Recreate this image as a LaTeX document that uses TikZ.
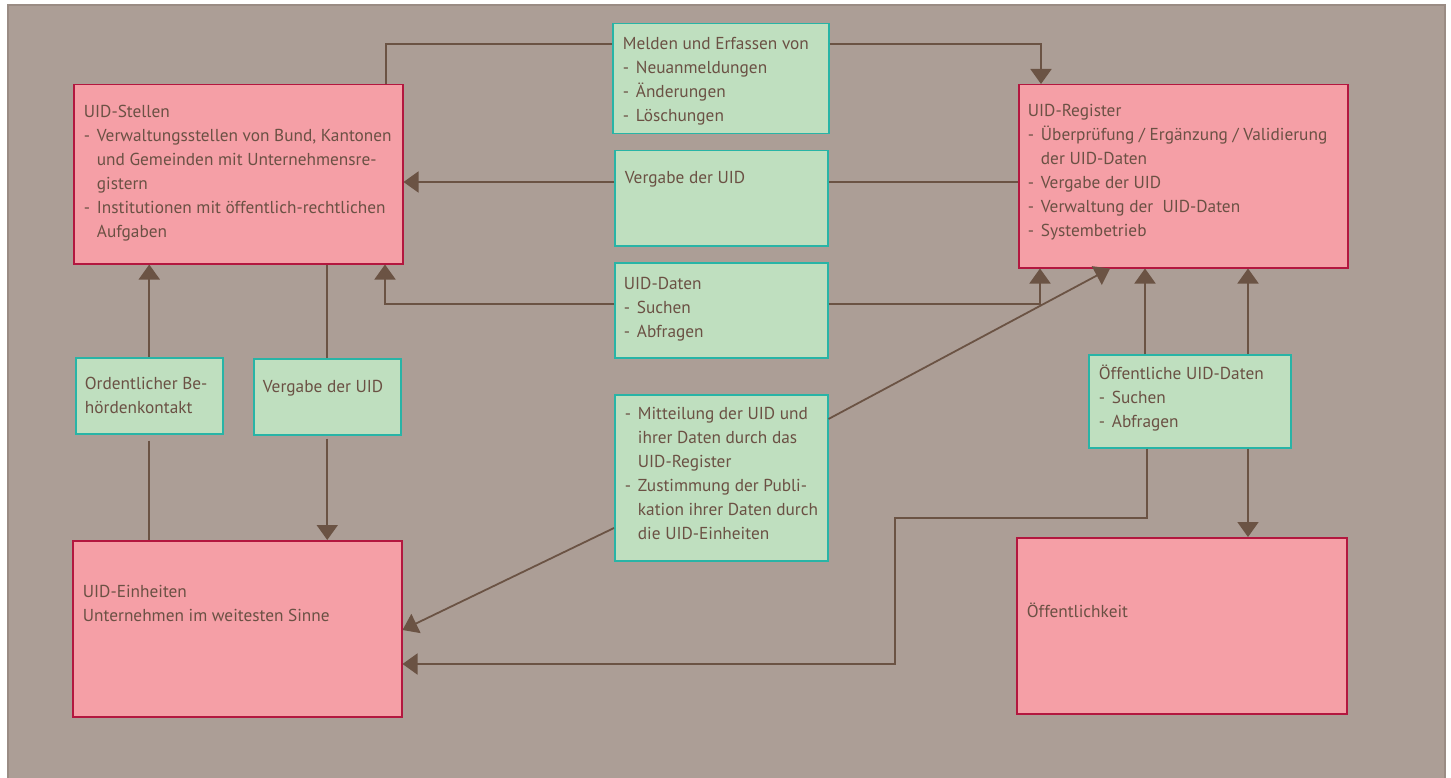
\documentclass[tikz,border=0pt]{standalone}
\usepackage{fontspec}
\setmainfont{PT Sans}
\usetikzlibrary{arrows.meta}
\definecolor{bggrey}{HTML}{AC9E96}
\definecolor{bgline}{HTML}{9A8C84}
\definecolor{uidpink}{HTML}{F59FA6}
\definecolor{uidred}{HTML}{B3173F}
\definecolor{uidgreen}{HTML}{BFDFBF}
\definecolor{uidteal}{HTML}{28B4A6}
\definecolor{uidline}{HTML}{6B5344}
\definecolor{uidtext}{HTML}{6B5144}
\newcommand{\bul}{\makebox[13pt][l]{-}}
\newcommand{\cont}{\hspace*{13pt}}
\tikzset{regbox/.style = {draw=uidred, fill=uidpink, line width=1.5pt,
                          inner sep=0, anchor=north west}}
\tikzset{flowbox/.style = {draw=uidteal, fill=uidgreen, line width=1.5pt,
                           inner sep=0, anchor=north west}}
\tikzset{txt/.style = {anchor=base west, inner sep=0, text=uidtext,
                       font=\fontsize{17.3}{24}\selectfont}}
\tikzset{arr/.style = {-{Triangle[length=15pt,width=21pt]}}}
\begin{document}
\begin{tikzpicture}[x=1pt, y=-1pt, line width=1.8pt, draw=uidline]
      \useasboundingbox (0,0) rectangle (1451,778);
      \fill [white] (0,0) rectangle (1451,778);
      \draw [draw=bgline, fill=bggrey, line width=1.5pt] (8,5) rectangle (1445,790);

      % boxes
      \node [regbox, minimum width=329, minimum height=179] (stellen) at (73,84) {};
      \node [regbox, minimum width=329, minimum height=183] (register) at (1018,84) {};
      \node [regbox, minimum width=329, minimum height=176] (einheiten) at (72,540) {};
      \node [regbox, minimum width=330, minimum height=176] (oeffentlichkeit) at (1016,537) {};

      \node [flowbox, minimum width=216, minimum height=110] (melden) at (612,23) {};
      \node [flowbox, minimum width=213, minimum height=95] (vergabe) at (614,150) {};
      \node [flowbox, minimum width=213, minimum height=95] (daten) at (614,262) {};
      \node [flowbox, minimum width=147, minimum height=76] (behoerde) at (75,357) {};
      \node [flowbox, minimum width=147, minimum height=76] (vergabeL) at (253,358) {};
      \node [flowbox, minimum width=213, minimum height=166] (mitteilung) at (614,394) {};
      \node [flowbox, minimum width=202, minimum height=93] (oeffdaten) at (1088,354) {};

      % texts
      \node [txt] (stellen-t) at (83,118) {\begin{tabular}[t]{@{}l@{}}
        UID-Stellen\\
        \bul Verwaltungsstellen von Bund, Kantonen\\
        \cont und Gemeinden mit Unternehmensre-\\
        \cont gistern\\
        \bul Institutionen mit öffentlich-rechtlichen\\
        \cont Aufgaben\end{tabular}};
      \node [txt] (register-t) at (1027,117) {\begin{tabular}[t]{@{}l@{}}
        UID-Register\\
        \bul Überprüfung / Ergänzung / Validierung\\
        \cont der UID-Daten\\
        \bul Vergabe der UID\\
        \bul Verwaltung der~~UID-Daten\\
        \bul Systembetrieb\end{tabular}};
      \node [txt] (einheiten-t) at (82,597) {\begin{tabular}[t]{@{}l@{}}
        UID-Einheiten\\
        Unternehmen im weitesten Sinne\end{tabular}};
      \node [txt] (oeffentlichkeit-t) at (1026,617) {Öffentlichkeit};
      \node [txt] (melden-t) at (622,50) {\begin{tabular}[t]{@{}l@{}}
        Melden und Erfassen von\\
        \bul Neuanmeldungen\\
        \bul Änderungen\\
        \bul Löschungen\end{tabular}};
      \node [txt] (vergabe-t) at (624,184) {Vergabe der UID};
      \node [txt] (daten-t) at (623,289) {\begin{tabular}[t]{@{}l@{}}
        UID-Daten\\
        \bul Suchen\\
        \bul Abfragen\end{tabular}};
      \node [txt] (behoerde-t) at (84,389) {\begin{tabular}[t]{@{}l@{}}
        Ordentlicher Be-\\
        hördenkontakt\end{tabular}};
      \node [txt] (vergabeL-t) at (262,392) {Vergabe der UID};
      \node [txt] (mitteilung-t) at (624,419) {\begin{tabular}[t]{@{}l@{}}
        \bul Mitteilung der UID und\\
        \cont ihrer Daten durch das\\
        \cont UID-Register\\
        \bul Zustimmung der Publi-\\
        \cont kation ihrer Daten durch\\
        \cont die UID-Einheiten\end{tabular}};
      \node [txt] (oeffdaten-t) at (1098,379) {\begin{tabular}[t]{@{}l@{}}
        Öffentliche UID-Daten\\
        \bul Suchen\\
        \bul Abfragen\end{tabular}};

      % connectors
      \draw ([xshift=313pt]stellen.north west) |- ([yshift=-21pt]melden.north west);
      \draw [arr] ([yshift=-21pt]melden.north east) -| ([xshift=23pt]register.north west);

      \draw ([yshift=-98pt]register.north west) -- ([yshift=-32pt]vergabe.north east);
      \draw [arr] ([yshift=-32pt]vergabe.north west) -- ([yshift=-98pt]stellen.north east);

      \draw [arr] ([yshift=-42pt]daten.north east) -| ([xshift=22pt]register.south west);
      \draw [arr] ([yshift=-42pt]daten.north west) -| ([xshift=312pt]stellen.south west);

      \draw [arr] (behoerde.north) -- (behoerde.north |- stellen.south);
      \draw ([yshift=-6pt]behoerde.south) -- (einheiten.north -| behoerde.south);

      \draw (vergabeL.north) -- (vergabeL.north |- stellen.south);
      \draw [arr] ([yshift=-3pt]vergabeL.south) -- (einheiten.north -| vergabeL.south);

      \draw [arr] ([yshift=-25pt]mitteilung.north east) -- ([xshift=92pt]register.south west);
      \draw [arr] ([yshift=-134pt]mitteilung.north west) -- ([yshift=-90pt]einheiten.north east);

      \draw [arr] ([xshift=57pt]oeffdaten.north west) -- ([xshift=127pt]register.south west);
      \draw [arr] ([xshift=160pt]oeffdaten.north west) -- ([xshift=230pt]register.south west);
      \draw [arr] ([xshift=160pt]oeffdaten.south west) -- ([xshift=232pt]oeffentlichkeit.north west);

      \coordinate (knick) at (895,518);
      \draw [arr] ([xshift=59pt]oeffdaten.south west) |- (knick) |- ([yshift=-124pt]einheiten.north east);
    \end{tikzpicture}
\end{document}
